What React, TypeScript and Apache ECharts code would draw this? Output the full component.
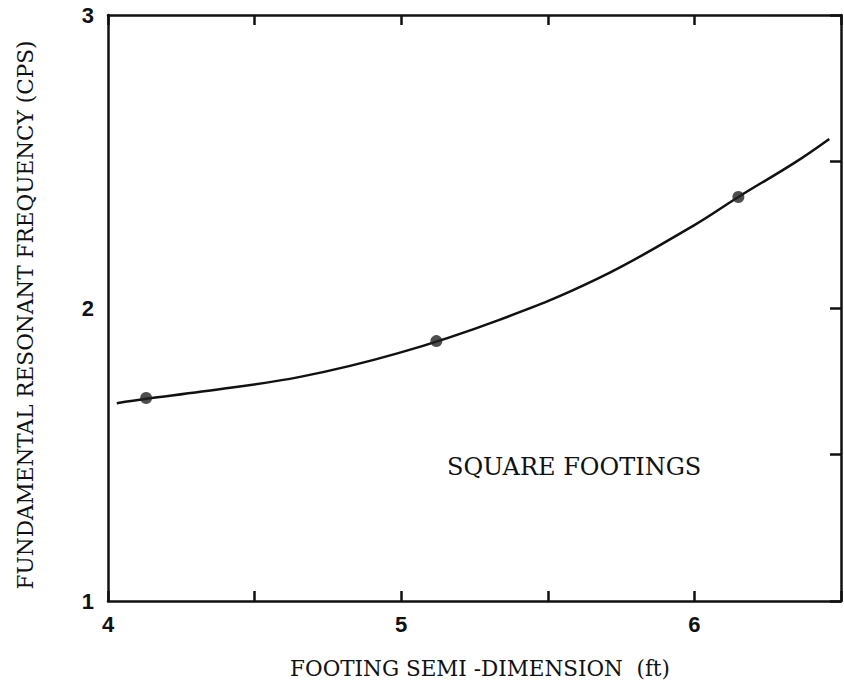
import React, { useEffect, useRef } from "react";
import * as echarts from "echarts";

const curveX = [4.03, 4.13, 4.32, 4.655, 4.99, 5.33, 5.67, 6.0, 6.15, 6.345, 6.46];
const curveY = [1.675, 1.69, 1.715, 1.765, 1.846, 1.958, 2.1, 2.283, 2.379, 2.498, 2.577];
const pointX = [4.13, 5.12, 6.15];
const pointY = [1.693, 1.887, 2.379];
const xTicks = [4, 5, 6];
const yTicks = [1, 2, 3];
const xTitle = "FOOTING SEMI -DIMENSION  (ft)";
const yTitle = "FUNDAMENTAL RESONANT FREQUENCY (CPS)";
const note = "SQUARE FOOTINGS";

export default function App() {
  const ref = useRef<HTMLDivElement>(null);
  useEffect(() => {
    if (!ref.current) return;
    const chart = echarts.init(ref.current, undefined, { renderer: "svg" });
    const black = "#111";
    const labelFont = { fontFamily: "Liberation Sans", fontWeight: "bold" as const, fontSize: 22, color: black };
    const serif = "DejaVu Serif";
    const fmt = (list: number[]) => (v: number) => (list.includes(Math.round(v * 100) / 100) ? String(v) : "");
    const line = { color: black, width: 2.5 };
    chart.setOption({
      animation: false,
      backgroundColor: "#fff",
      grid: { left: 108, top: 15, right: 2, bottom: 91, containLabel: false },
      xAxis: [
        {
          type: "value",
          min: 4,
          max: 6.5,
          interval: 0.5,
          position: "bottom",
          axisLine: { show: true, lineStyle: line },
          axisTick: { show: true, inside: true, length: 10, lineStyle: line },
          axisLabel: { ...labelFont, margin: 12, formatter: fmt(xTicks) },
          splitLine: { show: false },
        },
        {
          type: "value",
          min: 4,
          max: 6.5,
          interval: 0.5,
          position: "top",
          axisLine: { show: true, lineStyle: line },
          axisTick: { show: true, inside: true, length: 10, lineStyle: line },
          axisLabel: { show: false },
          splitLine: { show: false },
        },
      ],
      yAxis: [
        {
          type: "value",
          min: 1,
          max: 3,
          interval: 0.5,
          position: "left",
          axisLine: { show: true, lineStyle: line },
          axisTick: { show: false },
          axisLabel: { ...labelFont, margin: 14, formatter: fmt(yTicks) },
          splitLine: { show: false },
        },
        {
          type: "value",
          min: 1,
          max: 3,
          interval: 0.5,
          position: "right",
          axisLine: { show: true, lineStyle: line },
          axisTick: { show: true, inside: true, length: 11, lineStyle: line },
          axisLabel: { show: false },
          splitLine: { show: false },
        },
      ],
      graphic: [
        {
          type: "text",
          x: 447,
          y: 467,
          style: { text: note, fontFamily: serif, fontSize: 24, fill: black, verticalAlign: "middle" },
        },
        {
          type: "text",
          x: 480,
          y: 668,
          style: {
            text: xTitle,
            fontFamily: serif,
            fontSize: 21.5,
            fill: black,
            align: "center",
            verticalAlign: "middle",
          },
        },
        {
          type: "text",
          x: 25,
          y: 315,
          rotation: Math.PI / 2,
          style: {
            text: yTitle,
            fontFamily: serif,
            fontSize: 21.6,
            fill: black,
            align: "center",
            verticalAlign: "middle",
          },
        },
      ],
      series: [
        {
          type: "line",
          data: curveX.map((x, i) => [x, curveY[i]]),
          smooth: 0.4,
          showSymbol: false,
          symbol: "none",
          lineStyle: line,
          xAxisIndex: 0,
          yAxisIndex: 0,
          z: 2,
        },
        {
          type: "scatter",
          data: pointX.map((x, i) => [x, pointY[i]]),
          symbol: "circle",
          symbolSize: 12,
          itemStyle: { color: "#222" },
          xAxisIndex: 0,
          yAxisIndex: 0,
          z: 3,
        },
      ],
    });
    return () => chart.dispose();
  }, []);
  return (
    <div
      ref={ref}
      style={{ position: "fixed", left: 0, top: 0, width: 844, height: 692, background: "#fff" }}
    />
  );
}
